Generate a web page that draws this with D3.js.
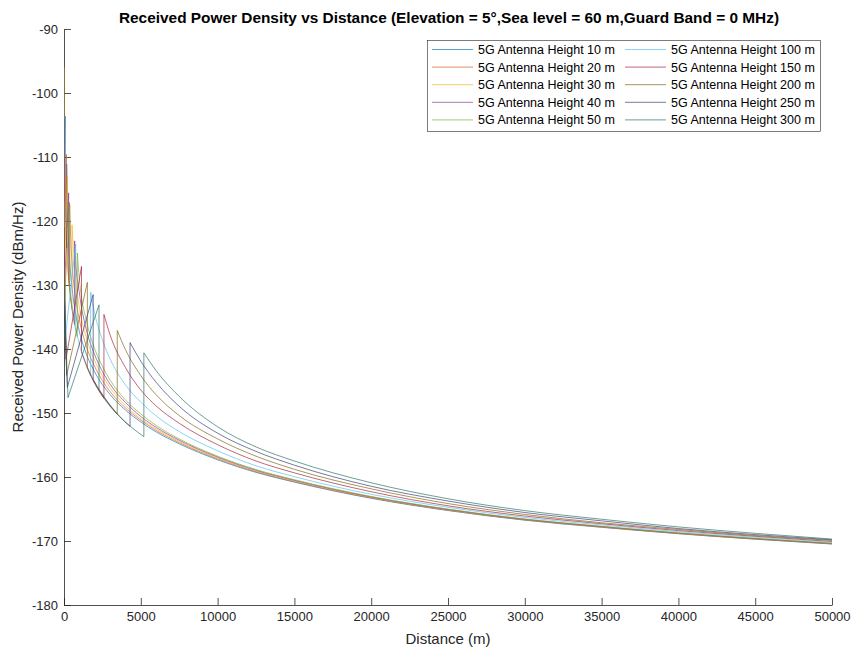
<!DOCTYPE html>
<html><head><meta charset="utf-8">
<script src="https://cdn.jsdelivr.net/npm/d3@7"></script>
<style>
html,body{margin:0;padding:0;background:#fff;}
svg{display:block;font-family:"Liberation Sans",Arial,Helvetica,sans-serif;}
</style></head>
<body>
<svg id="chart" width="855" height="651"></svg>
<script>
// ---- data (distance in m, received power density in dBm/Hz) ----
const heights = [10, 20, 30, 40, 50, 100, 150, 200, 250, 300];
const seriesNames = heights.map(h => "5G Antenna Height " + h + " m");
const xTickValues = [0, 5000, 10000, 15000, 20000, 25000, 30000, 35000, 40000, 45000, 50000];
const yTickValues = [-180, -170, -160, -150, -140, -130, -120, -110, -100, -90];

const h10 = [[0,-118],[9,-118.1],[76,-103.6],[76,-116.9],[117,-120.7],[173,-124.2],[173,-111.1],[300,-123.05],[500,-129.8],[750,-134.4],[1000,-137.25],[1500,-141.05],[2000,-143.6],[3000,-147.12],[4000,-149.54],[5000,-151.41],[6000,-152.96],[7500,-154.81],[10000,-157.31],[12500,-159.28],[15000,-160.8],[20000,-163.33],[25000,-165.24],[30000,-166.75],[35000,-167.86],[40000,-168.86],[45000,-169.72],[50000,-170.47]];
const h20 = [[0,-112],[17,-124.1],[152,-109.6],[152,-122.9],[233,-126.7],[347,-130.2],[347,-117.1],[500,-125.65],[750,-131.9],[1000,-135.4],[1500,-139.9],[2000,-142.75],[3000,-146.65],[4000,-149.2],[5000,-151.13],[6000,-152.72],[7500,-154.62],[10000,-157.16],[12500,-159.17],[15000,-160.71],[20000,-163.26],[25000,-165.18],[30000,-166.7],[35000,-167.82],[40000,-168.83],[45000,-169.69],[50000,-170.44]];
const h30 = [[0,-96],[26,-127.6],[228,-113.1],[228,-126.4],[350,-130.2],[520,-133.7],[520,-120.6],[750,-128.95],[1000,-133.5],[1500,-138.6],[2000,-141.8],[3000,-146.05],[4000,-148.8],[5000,-150.9],[6000,-152.5],[7500,-154.43],[10000,-157.02],[12500,-159.06],[15000,-160.61],[20000,-163.18],[25000,-165.13],[30000,-166.66],[35000,-167.78],[40000,-168.79],[45000,-169.65],[50000,-170.41]];
const h40 = [[0,-104],[35,-130.1],[304,-115.6],[304,-128.9],[467,-132.7],[693,-136.2],[693,-123.1],[750,-126.0],[1000,-131.25],[1500,-137.4],[2000,-140.9],[3000,-145.5],[4000,-148.35],[5000,-150.55],[6000,-152.25],[7500,-154.25],[10000,-156.88],[12500,-158.95],[15000,-160.52],[20000,-163.11],[25000,-165.07],[30000,-166.61],[35000,-167.74],[40000,-168.76],[45000,-169.62],[50000,-170.38]];
const h50 = [[0,-117],[43,-132],[380,-117.5],[380,-130.8],[583,-134.6],[867,-138.1],[867,-125.0],[1000,-129.0],[1500,-135.95],[2000,-140.0],[2500,-142.7],[3000,-144.85],[4000,-147.95],[5000,-150.15],[6000,-151.95],[7500,-154.05],[10000,-156.75],[12500,-158.83],[15000,-160.42],[20000,-163.04],[25000,-165.01],[30000,-166.56],[35000,-167.7],[40000,-168.72],[45000,-169.59],[50000,-170.36]];
const h100 = [[0,-126],[87,-138.1],[760,-123.6],[760,-136.9],[1167,-140.7],[1733,-144.2],[1733,-131.1],[2000,-134.5],[2500,-138.55],[3000,-141.55],[4000,-145.6],[5000,-148.3],[6000,-150.45],[7500,-152.9],[10000,-155.9],[12500,-158.25],[15000,-159.95],[20000,-162.7],[25000,-164.73],[30000,-166.32],[35000,-167.49],[40000,-168.54],[45000,-169.43],[50000,-170.21]];
const h150 = [[0,-121],[130,-141.6],[1140,-127.1],[1140,-140.4],[1750,-144.2],[2600,-147.7],[2600,-134.6],[3000,-137.8],[4000,-142.9],[5000,-146.4],[6000,-148.9],[7500,-151.6],[10000,-154.95],[12500,-157.5],[15000,-159.35],[20000,-162.3],[25000,-164.5],[30000,-166.1],[35000,-167.3],[40000,-168.37],[45000,-169.27],[50000,-170.07]];
const h200 = [[0,-128],[173,-144.1],[1520,-129.6],[1520,-142.9],[2333,-146.7],[3467,-150.2],[3467,-137.1],[4000,-140.1],[5000,-144.15],[6000,-147.15],[7500,-150.4],[10000,-154.05],[12500,-156.75],[15000,-158.8],[20000,-161.85],[25000,-164.15],[30000,-165.85],[35000,-167.15],[40000,-168.2],[45000,-169.15],[50000,-169.9]];
const h250 = [[0,-133],[217,-146.0],[1900,-131.5],[1900,-144.8],[2917,-148.6],[4300,-152.1],[4300,-139.0],[5000,-141.9],[6000,-145.2],[7500,-148.95],[10000,-153.15],[12500,-156.0],[15000,-158.15],[20000,-161.45],[25000,-163.75],[30000,-165.55],[35000,-166.85],[40000,-168.05],[45000,-169.0],[50000,-169.8]];
const h300 = [[0,-130],[260,-147.6],[2280,-133.1],[2280,-146.4],[3500,-150.2],[5200,-153.7],[5200,-140.6],[6000,-143.4],[7500,-147.4],[10000,-152.15],[12500,-155.3],[15000,-157.5],[20000,-160.9],[25000,-163.4],[30000,-165.25],[35000,-166.6],[40000,-167.8],[45000,-168.8],[50000,-169.7]];
const seriesData = [h10, h20, h30, h40, h50, h100, h150, h200, h250, h300];
const colors = ["#0072BD","#D95319","#EDB120","#7E2F8E","#77AC30","#4DBEEE","#A2142F","#7A5C00","#303070","#1E6B5A"];

// ---- layout ----
const svg = d3.select("#chart");
const L = 64, R = 832, T = 29, B = 605;
const x = d3.scaleLinear().domain([0, 50000]).range([L, R]);
const y = d3.scaleLinear().domain([-180, -90]).range([B, T]);
const axisColor = "#262626";
const FONT = '"Liberation Sans",Arial,sans-serif';

svg.append("defs").append("clipPath").attr("id","clip")
  .append("rect").attr("x", L).attr("y", T).attr("width", R-L).attr("height", B-T);

// axes (MATLAB style: ticks inward, box off)
const xAxis = d3.axisBottom(x).tickValues(xTickValues).tickFormat(d3.format("d")).tickSizeInner(-7).tickSizeOuter(0).tickPadding(7);
const yAxis = d3.axisLeft(y).tickValues(yTickValues).tickFormat(d3.format("d")).tickSizeInner(-7).tickSizeOuter(0).tickPadding(7);
const gx = svg.append("g").attr("transform", `translate(0,${B})`).call(xAxis);
const gy = svg.append("g").attr("transform", `translate(${L},0)`).call(yAxis);
[gx, gy].forEach(g => {
  g.select(".domain").attr("stroke", axisColor).attr("stroke-width", 0.8);
  g.selectAll(".tick line").attr("stroke", axisColor).attr("stroke-width", 0.8);
  g.selectAll(".tick text").attr("fill", axisColor).style("font-size", "13px").style("font-family", FONT);
});
gy.selectAll(".tick text").attr("x", -6).text(d => String(d));
gx.selectAll(".tick text").attr("y", 7);

// lines
const lineLin = d3.line().x(d => x(d[0])).y(d => y(d[1]));
const lineMono = d3.line().x(d => x(d[0])).y(d => y(d[1])).curve(d3.curveMonotoneX);
function pathFor(pts) {
  const segs = [[pts[0]]];
  for (let i = 1; i < pts.length; i++) {
    if (pts[i][0] === pts[i-1][0]) segs.push([pts[i]]);
    else segs[segs.length-1].push(pts[i]);
  }
  return segs.map((s, i) => {
    const p = (i === 0 ? lineLin(s) : lineMono(s));
    return i === 0 ? p : "L" + p.slice(1);
  }).join("");
}
const plot = svg.append("g").attr("clip-path", "url(#clip)");
plot.selectAll("path.series").data(seriesData).join("path")
  .attr("class", "series")
  .attr("d", d => pathFor(d))
  .attr("fill", "none")
  .attr("stroke", (d, i) => colors[i])
  .attr("stroke-width", 1)
  .attr("stroke-opacity", 0.65)
  .attr("stroke-linejoin", "round");

// title & labels
svg.append("text").attr("x", 449).attr("y", 23).attr("text-anchor", "middle")
  .style("font-size", "15.4px").style("font-weight", "bold").attr("fill", "#000")
  .text("Received Power Density vs Distance (Elevation = 5°,Sea level = 60 m,Guard Band = 0 MHz)");
svg.append("text").attr("x", 448).attr("y", 644).attr("text-anchor", "middle")
  .style("font-size", "15px").attr("fill", axisColor).text("Distance (m)");
svg.append("text").attr("transform", "translate(23,317) rotate(-90)").attr("text-anchor", "middle")
  .style("font-size", "15px").attr("fill", axisColor).text("Received Power Density (dBm/Hz)");

// legend
const lg = svg.append("g");
lg.append("rect").attr("x", 427.5).attr("y", 40.5).attr("width", 393).attr("height", 91)
  .attr("fill", "#fff").attr("stroke", "#262626").attr("stroke-width", 0.6);
seriesNames.forEach((name, i) => {
  const col = Math.floor(i / 5), row = i % 5;
  const lx = col === 0 ? 432 : 625;
  const ly = 49.5 + row * 17.6;
  lg.append("line").attr("x1", lx).attr("x2", lx + 41).attr("y1", ly).attr("y2", ly)
    .attr("stroke", colors[i]).attr("stroke-width", 1).attr("stroke-opacity", 0.65);
  lg.append("text").attr("x", lx + 46).attr("y", ly + 4.5).style("font-size", "12.5px")
    .attr("fill", "#000").text(name);
});
</script>
</body></html>
